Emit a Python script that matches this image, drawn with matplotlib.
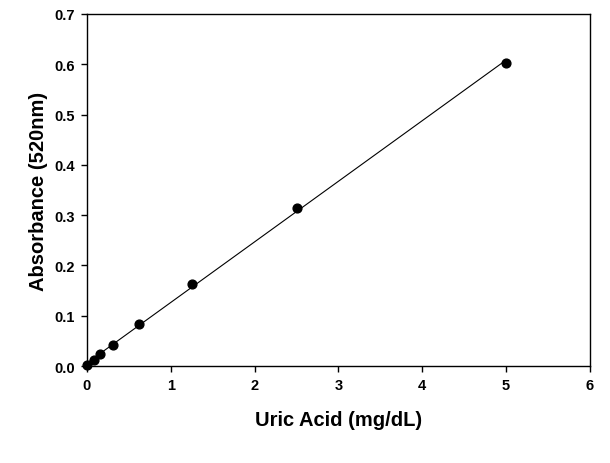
import matplotlib
matplotlib.use('Agg')
import matplotlib.pyplot as plt
import numpy as np

# uric acid standard curve
uricAcid = [0, 0.078, 0.156, 0.3125, 0.625, 1.25, 2.5, 5]
absorbance = [0.002, 0.012, 0.023, 0.042, 0.083, 0.164, 0.314, 0.603]

xTicks = [0, 1, 2, 3, 4, 5, 6]
yTicks = [0.0, 0.1, 0.2, 0.3, 0.4, 0.5, 0.6, 0.7]

plt.rcParams['font.family'] = ['Liberation Sans', 'DejaVu Sans']

fig = plt.figure(figsize=(6.1, 4.64), dpi=100)
ax = fig.add_axes([0.1426, 0.209, 0.8244, 0.7587])

# linear fit drawn from 0 to the last standard
slope, intercept = np.polyfit(uricAcid, absorbance, 1)
fitX = np.array([uricAcid[0], uricAcid[-1]])
ax.plot(fitX, slope * fitX + intercept, color='black', linewidth=0.8)
ax.scatter(uricAcid, absorbance, color='black', s=40, zorder=3, clip_on=False)

ax.set_xlim(0, 6)
ax.set_ylim(0, 0.7)
ax.set_xticks(xTicks)
ax.set_yticks(yTicks)
ax.set_xticklabels([str(t) for t in xTicks], fontsize=10.5, fontweight='bold')
ax.set_yticklabels(['%.1f' % t for t in yTicks], fontsize=10.5, fontweight='bold')
ax.tick_params(direction='out', length=4.5, width=1, pad=4)
for s in ax.spines.values():
    s.set_linewidth(1)

ax.set_xlabel('Uric Acid (mg/dL)', fontsize=14.5, fontweight='bold', labelpad=13)
ax.set_ylabel('Absorbance (520nm)', fontsize=14.5, fontweight='bold', labelpad=5)

fig.savefig('out.png', dpi=100)
